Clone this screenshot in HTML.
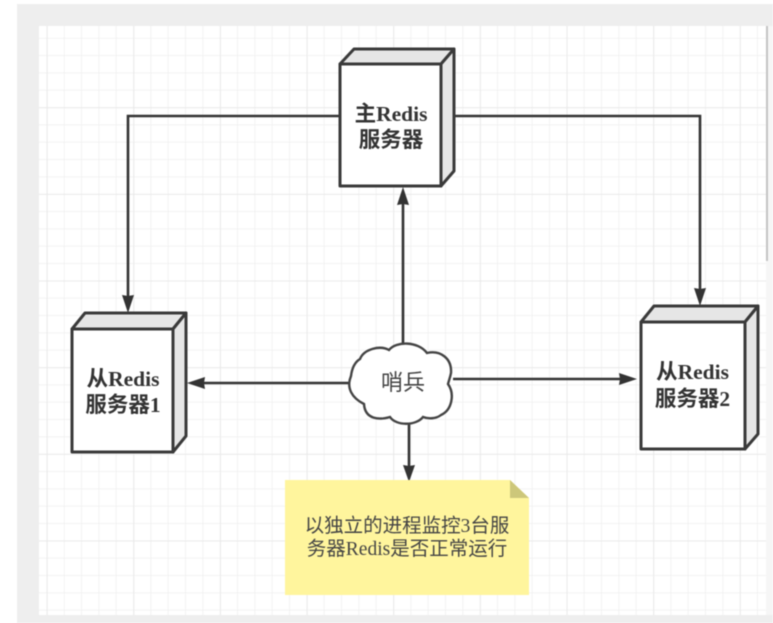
<!DOCTYPE html>
<html>
<head>
<meta charset="utf-8">
<style>
html,body{margin:0;padding:0;background:#fff;width:773px;height:623px;overflow:hidden}
svg{display:block;filter:blur(.5px)}
text{text-anchor:middle;fill:#333}
.b{font:bold 21.5px "Liberation Serif","Noto Sans CJK SC",serif}
.n{font:19.5px "Liberation Serif","Noto Sans CJK SC",serif;fill:#444}
.c{font:22px "Noto Sans CJK SC",sans-serif;fill:#444}
</style>
</head>
<body>
<svg width="773" height="623" viewBox="0 0 773 623" xmlns="http://www.w3.org/2000/svg">
<defs>
<pattern id="minor" width="17.33" height="17.33" patternUnits="userSpaceOnUse" patternTransform="translate(46.5 20.5)">
<path d="M0 0V17.33M0 0H17.33" stroke="#efefef" stroke-width="1.5" fill="none"/>
</pattern>
<pattern id="major" width="86.65" height="86.65" patternUnits="userSpaceOnUse" patternTransform="translate(46.8 20.7)">
<path d="M0 0V86.65M0 0H86.65" stroke="#e8e8e8" stroke-width="1.5" fill="none"/>
</pattern>
</defs>
<rect x="17" y="4" width="756" height="619" fill="#eeeeee"/>
<rect x="39" y="26" width="734" height="589" fill="#fff"/>
<rect x="39" y="26" width="727" height="589" fill="url(#minor)"/>
<rect x="39" y="26" width="727" height="589" fill="url(#major)"/>
<rect x="766" y="26" width="7" height="589" fill="#f6f6f6"/>
<rect x="766" y="26" width="2" height="235" fill="#c4c4c4"/>

<g fill="none" stroke="#333" stroke-width="2.6">
<path d="M340 116H128V300"/>
<path d="M454 116H700V293"/>
<path d="M403 344V200"/>
<path d="M350 383H200"/>
<path d="M453 379H622"/>
<path d="M409 424V468"/>
</g>
<g fill="#333">
<path d="M128 313L122 295L128 296L134 295Z"/>
<path d="M700 306L694 288L700 289L706 288Z"/>
<path d="M403 187L397 205L403 204L409 205Z"/>
<path d="M187 383L205 377L204 383L205 389Z"/>
<path d="M637 379L619 373L620 379L619 385Z"/>
<path d="M409 482L403 465L409 466L415 465Z"/>
</g>

<g stroke="#3a3a3a" stroke-width="3" stroke-linejoin="round">
<rect x="340" y="64" width="101" height="122" fill="#fff"/>
<path d="M340 64L354 49H454L441 64Z" fill="#e6e6e6"/>
<path d="M441 64L454 49V171L441 186Z" fill="#e6e6e6"/>

<rect x="72" y="329" width="101" height="123" fill="#fff"/>
<path d="M72 329L85 313H186L173 329Z" fill="#e6e6e6"/>
<path d="M173 329L186 313V436L173 452Z" fill="#e6e6e6"/>

<rect x="641" y="322" width="104" height="127" fill="#fff"/>
<path d="M641 322L654 306H758L745 322Z" fill="#e6e6e6"/>
<path d="M745 322L758 306V434L745 449Z" fill="#e6e6e6"/>
</g>

<path d="M360 359C364 349 380 345 389 350C396 341 418 341 427 353C440 350 452 358 451 373C450 378 449 380 448 384C455 394 452 410 441 415C436 419 428 419 423 417C416 426 396 426 390 417C380 420 365 420 364 404C352 398 346 388 351 376C352 368 355 362 360 359Z" fill="#fff" stroke="#444" stroke-width="2.4"/>

<path d="M285 480H510L529 498V595H285Z" fill="#fff59d"/>
<path d="M510 480L529 498H510Z" fill="#cdc77a"/>

<text class="b" x="391" y="121">主Redis</text>
<text class="b" x="391" y="147">服务器</text>
<text class="b" x="123" y="386">从Redis</text>
<text class="b" x="123" y="412">服务器1</text>
<text class="b" x="692.5" y="379">从Redis</text>
<text class="b" x="692.5" y="406">服务器2</text>
<text class="c" x="403" y="390">哨兵</text>
<text class="n" x="407" y="532">以独立的进程监控3台服</text>
<text class="n" x="407" y="555">务器Redis是否正常运行</text>
</svg>
</body>
</html>
